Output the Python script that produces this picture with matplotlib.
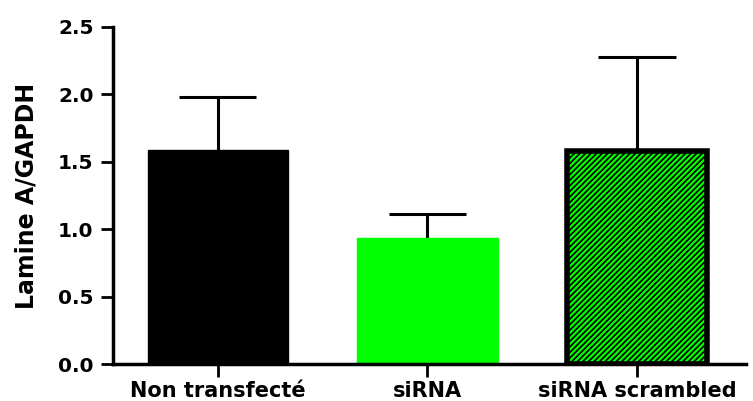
import matplotlib
matplotlib.use("Agg")
import matplotlib.pyplot as plt
import numpy as np

# values
categories = ["Non transfecté", "siRNA", "siRNA scrambled"]
means = [1.59, 0.935, 1.58]
errors = [0.39, 0.175, 0.70]

plt.rcParams["font.family"] = ["DejaVu Sans"]
plt.rcParams["hatch.linewidth"] = 1.2

fig = plt.figure(figsize=(7.53, 4.01), dpi=100)
ax = fig.add_axes([113 / 753, 37 / 401, 633 / 753, 337 / 401])

x = np.arange(len(categories))
means_arr = np.array(means)
tops = means_arr + np.array(errors)
width = 0.67
cap_half = 0.184

# upper error bars only, drawn under the bars
ax.vlines(x, means_arr, tops, color="black", linewidth=2.2, zorder=1)
ax.hlines(tops, x - cap_half, x + cap_half, color="black", linewidth=2.2,
          zorder=1)
ax.bar(x[0], means[0], width, color="black", edgecolor="black", linewidth=1,
       zorder=2)
ax.bar(x[1], means[1], width, color="#00ff00", edgecolor="#00ff00", linewidth=1,
       zorder=2)
ax.bar(x[2], means[2], width, color="#00ff00", edgecolor="black", linewidth=4,
       hatch="//////", zorder=2)

ax.set_xlim(-0.5, 2.52)
ax.set_ylim(0, 2.5)
ax.set_yticks([0, 0.5, 1.0, 1.5, 2.0, 2.5])
ax.set_yticklabels(["0.0", "0.5", "1.0", "1.5", "2.0", "2.5"])
ax.set_xticks(x)
ax.set_xticklabels(categories)

for side in ["top", "right"]:
    ax.spines[side].set_visible(False)
for side in ["left", "bottom"]:
    ax.spines[side].set_linewidth(2.5)
    ax.spines[side].set_zorder(3)

ax.tick_params(axis="y", direction="out", length=9, width=2, pad=5,
               labelsize=14.5)
ax.tick_params(axis="x", direction="out", length=9, width=2, pad=3,
               labelsize=15)
for lab in ax.get_xticklabels() + ax.get_yticklabels():
    lab.set_fontweight("bold")

ax.set_ylabel("Lamine A/GAPDH", fontsize=17, fontweight="bold", labelpad=14)

fig.savefig("out.png", dpi=100, facecolor="white")
